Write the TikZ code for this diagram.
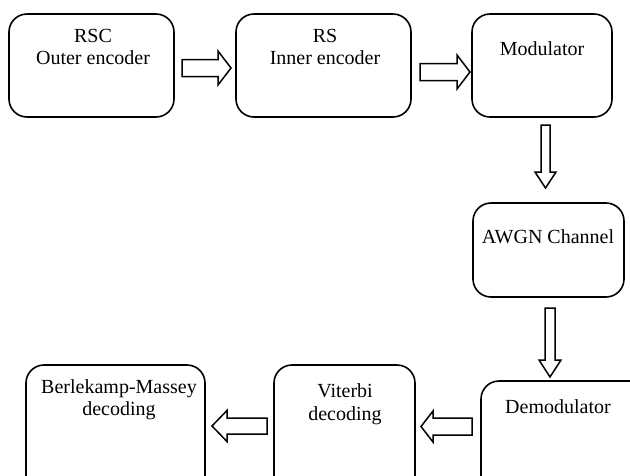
\documentclass[tikz,border=0pt]{standalone}
\usepackage{fontspec}
\setmainfont{Liberation Serif}
\begin{document}
\begin{tikzpicture}[x=1pt,y=-1pt,
  box/.style={draw=black,line width=1.6pt,rounded corners=18pt},
  txt/.style={anchor=base,inner sep=0pt,font=\fontsize{20}{23}\selectfont},
  arr/.style={draw=black,line width=1.5pt,line join=miter,fill=white}]
\useasboundingbox (0,0) rectangle (630,475);
\clip (0,0) rectangle (630,475);
\newcommand\harrow[6]{%
  \draw[arr] (#1,#4-#5) -- (#3,#4-#5) -- (#3,#4-#6) -- (#2,#4) -- (#3,#4+#6) -- (#3,#4+#5) -- (#1,#4+#5) -- cycle;}
\newcommand\varrow[6]{%
  \draw[arr] (#4-#5,#1) -- (#4-#5,#3) -- (#4-#6,#3) -- (#4,#2) -- (#4+#6,#3) -- (#4+#5,#3) -- (#4+#5,#1) -- cycle;}
% boxes
\draw[box] (9,14) rectangle (174,117);
\draw[box] (236,14) rectangle (411,117);
\draw[box] (472,14) rectangle (612,117);
\draw[box] (473,203) rectangle (624,297);
\draw[box] (481,381) rectangle (650,500);
\draw[box] (274,365) rectangle (415,500);
\draw[box] (26,365) rectangle (205,500);
% texts
\node[txt] (t1a) at (93,42) {RSC};
\node[txt] (t1b) at (93,64) {Outer encoder};
\node[txt] (t2a) at (325,42) {RS};
\node[txt] (t2b) at (325,64) {Inner encoder};
\node[txt] (t3) at (542,55) {Modulator};
\node[txt] (t4) at (548,243) {AWGN Channel};
\node[txt] (t5) at (558,413) {Demodulator};
\node[txt] (t6a) at (345,397) {Viterbi};
\node[txt] (t6b) at (345,420) {decoding};
\node[txt] (t7a) at (119,393) {Berlekamp-Massey};
\node[txt] (t7b) at (119,415) {decoding};
% block arrows
\harrow{182}{231}{218}{68}{8.5}{17}
\harrow{420}{470}{457}{72}{8.5}{17}
\varrow{125}{188}{172}{545.5}{4.5}{10.5}
\varrow{308}{377}{360}{550}{5}{11}
\harrow{472}{421}{433}{426.5}{8.5}{15.5}
\harrow{267}{212}{227}{426}{8}{15.5}
\end{tikzpicture}
\end{document}
